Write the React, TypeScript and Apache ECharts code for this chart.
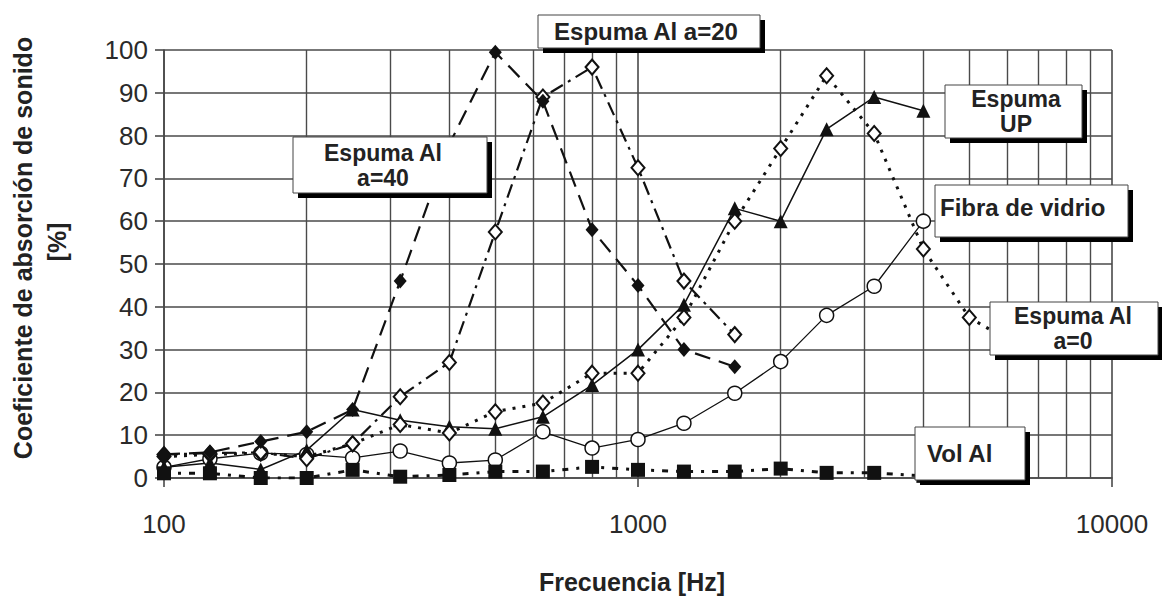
import React, { useEffect, useRef } from "react";
import * as echarts from "echarts";

// Frequencies of the measured bands [Hz]
const freqs = [100, 125, 160, 200, 250, 315, 400, 500, 630, 800, 1000, 1250, 1600, 2000, 2500, 3150, 4000, 5000, 6300];

// Sound absorption coefficient [%] per series (aligned with freqs)
const espumaAl40 = [5.5, 6, 8.5, 10.8, 16, 46, 78, 99.5, 88, 58, 45, 30, 26];
const espumaAl20 = [5.5, 5.8, 6, 4.5, 8, 19, 27, 57.5, 89, 96, 72.5, 46, 33.5];
const espumaAl0 = [5, 5.5, 5.8, 5, 8, 12.5, 10.5, 15.5, 17.5, 24.5, 24.5, 37.5, 60, 77, 94, 80.5, 53.5, 37.5, 31];
const espumaUP = [2.5, 3.5, 2, 6.5, 16, 13.5, 12, 11.5, 14.3, 21.7, 30, 40.5, 63, 60, 81.5, 89, 85.8];
const fibraVidrio = [2.5, 4.5, 5.8, 5.5, 4.7, 6.3, 3.5, 4.2, 10.8, 7, 9, 12.8, 19.8, 27.2, 38, 44.8, 60];
const volAl = [1.1, 1.1, 0, 0, 1.9, 0.3, 0.7, 1.5, 1.5, 2.6, 1.9, 1.5, 1.5, 2.2, 1.2, 1.2, 0.5, 0.5];

// Minor vertical gridlines of the log axis
const minorGridX = [200, 300, 400, 500, 600, 700, 800, 900, 2000, 3000, 4000, 5000, 6000, 7000, 8000, 9000];

const yTitle = "Coeficiente de absorción de sonido";
const yUnit = "[%]";
const xTitle = "Frecuencia [Hz]";

const pairs = (vals: number[]) => vals.map((v, i) => [freqs[i], v]);

const FONT = '"Liberation Sans", Arial, Helvetica, sans-serif';
const INK = "#111";

type Box = { lines: string[]; x: number; y: number; w: number; h: number; tx: number; ty: number; align: string };
const boxes: Box[] = [
  { lines: ["Espuma Al a=20"], x: 538, y: 15, w: 222, h: 33, tx: 646, ty: 31, align: "center" },
  { lines: ["Espuma Al", "a=40"], x: 293, y: 137, w: 194, h: 56, tx: 383, ty: 165, align: "center" },
  { lines: ["Espuma", "UP"], x: 945, y: 85, w: 137, h: 53, tx: 1016, ty: 111, align: "center" },
  { lines: ["Fibra de vidrio"], x: 935, y: 185, w: 193, h: 52, tx: 940, ty: 207, align: "left" },
  { lines: ["Espuma Al", "a=0"], x: 990, y: 302, w: 168, h: 53, tx: 1073, ty: 328, align: "center" },
  { lines: ["Vol Al"], x: 915, y: 427, w: 110, h: 53, tx: 927, ty: 453, align: "left" },
];

export default function App() {
  const ref = useRef<HTMLDivElement>(null);
  useEffect(() => {
    if (!ref.current) return;
    const chart = echarts.init(ref.current, null, { renderer: "svg" });

    const graphic: any[] = [];
    boxes.forEach((b) => {
      graphic.push({ type: "rect", z: 100, shape: { x: b.x + 5, y: b.y + 5, width: b.w, height: b.h }, style: { fill: "#000" } });
      graphic.push({ type: "rect", z: 101, shape: { x: b.x, y: b.y, width: b.w, height: b.h }, style: { fill: "#fff", stroke: "#444", lineWidth: 1 } });
      const n = b.lines.length;
      const pitch = 25;
      b.lines.forEach((line, i) => {
        graphic.push({
          type: "text", z: 102, x: b.tx, y: b.ty + (i - (n - 1) / 2) * pitch,
          style: { text: line, font: `bold ${n > 1 ? 23 : 24}px ${FONT}`, fill: "#222", align: b.align, textAlign: b.align, verticalAlign: "middle", textVerticalAlign: "middle" },
        });
      });
    });
    graphic.push({
      type: "text", x: 23, y: 248, rotation: Math.PI / 2,
      style: { text: yTitle, font: `bold 25px ${FONT}`, fill: "#222", align: "center", textAlign: "center", verticalAlign: "middle", textVerticalAlign: "middle" },
    });
    graphic.push({
      type: "text", x: 57, y: 242, rotation: Math.PI / 2,
      style: { text: yUnit, font: `bold 25px ${FONT}`, fill: "#222", align: "center", textAlign: "center", verticalAlign: "middle", textVerticalAlign: "middle" },
    });
    graphic.push({
      type: "text", x: 632, y: 582,
      style: { text: xTitle, font: `bold 25px ${FONT}`, fill: "#222", align: "center", textAlign: "center", verticalAlign: "middle", textVerticalAlign: "middle" },
    });

    const gridLine = { color: "#4a4a4a", width: 1.6, type: "solid" as const };

    chart.setOption({
      animation: false,
      backgroundColor: "#fff",
      grid: { left: 164, right: 50, top: 50, bottom: 122, containLabel: false },
      xAxis: {
        type: "log",
        logBase: 10,
        min: 100,
        max: 10000,
        axisLine: { show: true, lineStyle: gridLine },
        axisTick: { show: true, length: 9, lineStyle: gridLine },
        splitLine: { show: true, lineStyle: gridLine },
        axisLabel: { fontSize: 26, fontFamily: FONT, color: "#2a2a2a", margin: 33, formatter: (v: number) => String(Math.round(v)) },
      },
      yAxis: {
        type: "value",
        min: 0,
        max: 100,
        interval: 10,
        axisLine: { show: true, lineStyle: gridLine },
        axisTick: { show: true, length: 9, lineStyle: gridLine },
        splitLine: { show: true, lineStyle: gridLine },
        axisLabel: { fontSize: 26, fontFamily: FONT, color: "#2a2a2a", margin: 16 },
      },
      graphic,
      series: [
        {
          name: "Fibra de vidrio", type: "line", data: pairs(fibraVidrio),
          lineStyle: { color: INK, width: 1.3 },
          symbol: "circle", symbolSize: 14,
          itemStyle: { color: "#fff", borderColor: INK, borderWidth: 1.5 },
          markLine: {
            silent: true, symbol: "none", z: 1, label: { show: false },
            lineStyle: { color: "#4a4a4a", width: 1.4, type: "solid" },
            data: minorGridX.map((f) => ({ xAxis: f })),
          },
        },
        {
          name: "Espuma UP", type: "line", data: pairs(espumaUP),
          lineStyle: { color: INK, width: 1.5 },
          symbol: "triangle", symbolSize: 14,
          itemStyle: { color: INK },
        },
        {
          name: "Espuma Al a=0", type: "line", data: pairs(espumaAl0),
          lineStyle: { color: INK, width: 3, type: [3, 7] },
          symbol: "diamond", symbolSize: [13, 15],
          itemStyle: { color: "#fff", borderColor: INK, borderWidth: 2 },
        },
        {
          name: "Espuma Al a=20", type: "line", data: pairs(espumaAl20),
          lineStyle: { color: INK, width: 2.2, type: [14, 6, 3, 6] },
          symbol: "diamond", symbolSize: [13, 15],
          itemStyle: { color: "#fff", borderColor: INK, borderWidth: 2 },
        },
        {
          name: "Espuma Al a=40", type: "line", data: pairs(espumaAl40),
          lineStyle: { color: INK, width: 2.2, type: [16, 9] },
          symbol: "diamond", symbolSize: [13, 15],
          itemStyle: { color: INK },
        },
        {
          name: "Vol Al", type: "line", data: pairs(volAl),
          lineStyle: { color: INK, width: 3, type: [6, 8, 3, 8] },
          symbol: "rect", symbolSize: 14,
          itemStyle: { color: INK },
        },
      ],
    });
    return () => chart.dispose();
  }, []);

  return (
    <div
      ref={ref}
      style={{ position: "fixed", left: 0, top: 0, width: 1162, height: 600, background: "#fff" }}
    />
  );
}
